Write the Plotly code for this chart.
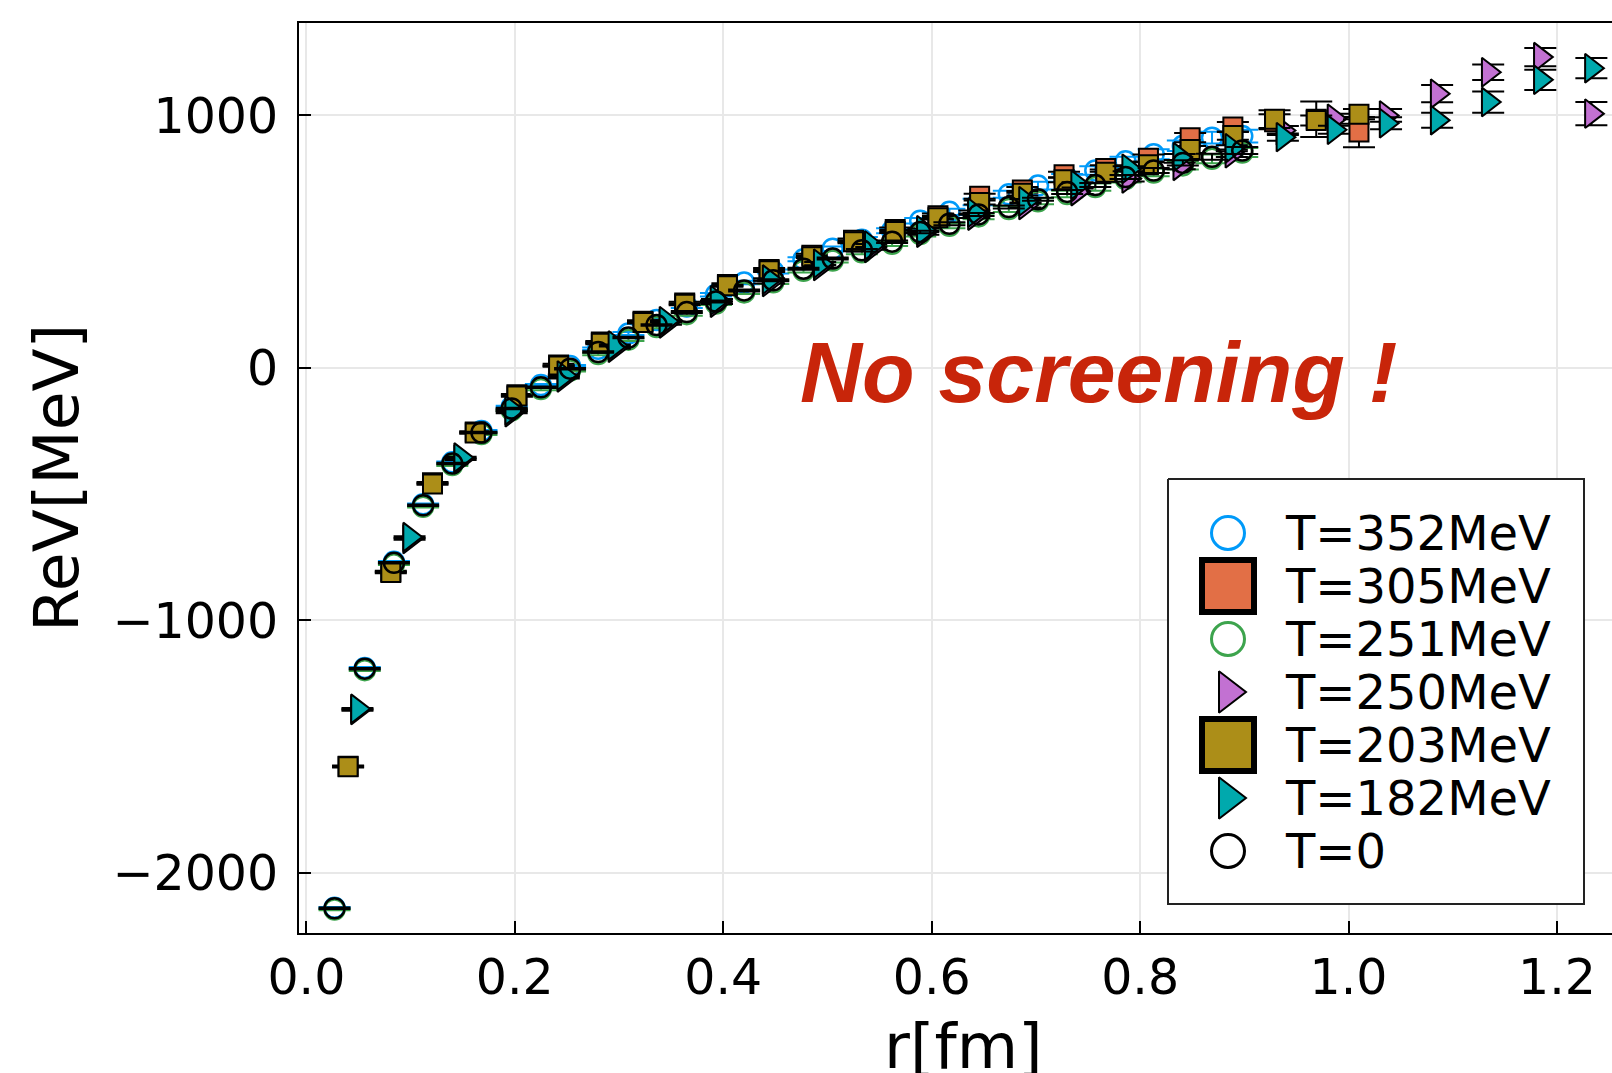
import plotly.graph_objects as go

# ---------------- data ----------------
series_names = ["T=352MeV", "T=305MeV", "T=251MeV", "T=250MeV", "T=203MeV", "T=182MeV", "T=0"]

# fine lattice (T=0, T=352, T=251)
r_fine = [0.027, 0.056, 0.084, 0.112, 0.140, 0.168, 0.197, 0.225, 0.253, 0.280,
          0.309, 0.336, 0.365, 0.393, 0.420, 0.448, 0.477, 0.505, 0.533, 0.562,
          0.589, 0.617, 0.645, 0.674, 0.702, 0.730, 0.757, 0.786, 0.813, 0.841,
          0.869, 0.898]
V_T0 = [-2140, -1191, -772, -544, -379, -256, -161, -77, -3, 63,
        120, 170, 221, 263, 307, 347, 393, 433, 466, 500,
        538, 571, 608, 637, 668, 697, 724, 756, 782, 812,
        836, 861]
E_T0 = [3, 3, 3, 3, 3, 3, 3, 3, 3, 3, 3, 3, 4, 4, 4, 4, 4, 4, 5, 5,
        5, 6, 6, 6, 6, 8, 8, 8, 10, 10, 12, 14]
V_T352 = [-2138, -1188, -768, -540, -374, -250, -154, -68, 8, 76,
          136, 190, 243, 290, 338, 382, 430, 472, 508, 543,
          583, 618, 657, 688, 722, 752, 782, 818, 846, 880,
          912, 918]
E_T352 = [3, 3, 3, 3, 3, 4, 4, 4, 4, 5, 6, 6, 6, 7, 7, 8, 8, 9, 10, 10,
          11, 12, 13, 14, 15, 16, 17, 18, 20, 21, 23, 25]
V_T251 = [-2145, -1197, -778, -550, -385, -262, -168, -84, -10, 55,
          112, 162, 213, 255, 299, 339, 385, 425, 458, 492,
          530, 563, 600, 629, 660, 689, 716, 748, 774, 802,
          828, 853]
E_T251 = [3, 3, 3, 3, 3, 4, 4, 4, 4, 5, 5, 5, 6, 6, 6, 7, 7, 8, 8, 9,
          10, 10, 11, 12, 12, 13, 14, 14, 15, 16, 17, 18]

# medium lattice (T=203, T=305)
r_mid = [0.040, 0.081, 0.121, 0.162, 0.202, 0.242, 0.283, 0.323, 0.363, 0.404,
         0.444, 0.485, 0.525, 0.565, 0.606, 0.646, 0.687, 0.727, 0.767, 0.808,
         0.848, 0.889, 0.929, 0.969, 1.010]
V_T203 = [-1580, -810, -460, -258, -111, 8, 98, 180, 252, 325,
          385, 440, 500, 540, 595, 655, 692, 745, 775, 805,
          865, 920, 985, 980, 1005]
E_T203 = [3, 3, 3, 3, 3, 3, 4, 4, 4, 4, 5, 5, 6, 6, 7, 8, 9, 10, 11, 12,
          14, 16, 35, 20, 20]
V_T305 = [-1578, -806, -455, -254, -106, 12, 103, 185, 257, 330,
          390, 446, 506, 548, 603, 680, 705, 765, 790, 830,
          912, 954, 975, 985, 934]
E_T305 = [3, 3, 3, 3, 3, 4, 4, 4, 5, 5, 6, 6, 7, 8, 9, 10, 11, 12, 13, 15,
          18, 20, 30, 70, 60]

# coarse lattice (T=182, T=250)
r_coarse = [0.049, 0.099, 0.148, 0.197, 0.247, 0.296, 0.345, 0.394, 0.444, 0.493,
            0.542, 0.592, 0.641, 0.690, 0.740, 0.789, 0.838, 0.888, 0.937, 0.986,
            1.036, 1.085, 1.134, 1.184, 1.233]
V_T182 = [-1350, -670, -355, -168, -30, 89, 185, 268, 350, 413,
          485, 545, 615, 660, 725, 789, 835, 870, 914, 943,
          969, 981, 1053, 1141, 1187]
E_T182 = [3, 3, 3, 3, 4, 4, 4, 5, 5, 6, 6, 7, 8, 9, 10, 10, 12, 12, 14, 16,
          24, 30, 42, 40, 40]
V_T250 = [-1355, -678, -362, -176, -38, 80, 176, 258, 340, 403,
          475, 535, 603, 645, 700, 750, 800, 850, 940, 987,
          1000, 1086, 1171, 1231, 1007]
E_T250 = [3, 3, 3, 4, 4, 4, 5, 5, 6, 6, 7, 8, 9, 10, 11, 12, 13, 15, 18, 20,
          25, 34, 31, 36, 46]

x_ticks = [0.0, 0.2, 0.4, 0.6, 0.8, 1.0, 1.2]
y_ticks = [-2000, -1000, 0, 1000]

# ---------------- styles ----------------
C_BLUE, C_ORANGE, C_GREEN = "#009af9", "#e26f46", "#3da44d"
C_PURPLE, C_OLIVE, C_TEAL = "#c271d2", "#ac8e18", "#00a9ad"
FONT = "DejaVu Sans"

fig = go.Figure()

def add_series(x, y, e, name, symbol, color, size, filled, ecolor):
    if filled:
        marker = dict(symbol=symbol, size=size, color=color, opacity=1,
                      line=dict(color="black", width=2))
    else:
        marker = dict(symbol=symbol, size=size, color=color, opacity=1,
                      line=dict(width=2.5))
    fig.add_trace(go.Scatter(
        x=x, y=y, mode="markers", name=name, showlegend=False,
        marker=marker,
        error_y=dict(type="data", array=e, visible=True, color=ecolor,
                     thickness=2, width=16),
    ))

add_series(r_fine, V_T352, E_T352, series_names[0], "circle-open", C_BLUE, 20, False, C_BLUE)
add_series(r_mid, V_T305, E_T305, series_names[1], "square", C_ORANGE, 19, True, "black")
add_series(r_fine, V_T251, E_T251, series_names[2], "circle-open", C_GREEN, 20, False, C_GREEN)
add_series(r_coarse, V_T250, E_T250, series_names[3], "triangle-right", C_PURPLE, 25, True, "black")
add_series(r_mid, V_T203, E_T203, series_names[4], "square", C_OLIVE, 19, True, "black")
add_series(r_coarse, V_T182, E_T182, series_names[5], "triangle-right", C_TEAL, 25, True, "black")
add_series(r_fine, V_T0, E_T0, series_names[6], "circle-open", "black", 20, False, "black")

# ---------------- custom legend on a pixel-space overlay axis ----------------
PL, PR, PT, PB = 299, 1612, 23, 933
leg_box_x = [1168, 1584, 1584, 1168, 1168]
leg_box_y = [479, 479, 904, 904, 479]
fig.add_trace(go.Scatter(x=leg_box_x, y=leg_box_y, xaxis="x2", yaxis="y2",
                         mode="lines", fill="toself", fillcolor="white",
                         line=dict(color="#222", width=2), showlegend=False,
                         hoverinfo="skip"))
row_y = [533, 586, 639, 692, 745, 798, 851]
leg_sym = ["circle-open", "square", "circle-open", "triangle-right", "square", "triangle-right", "circle-open"]
leg_col = [C_BLUE, C_ORANGE, C_GREEN, C_PURPLE, C_OLIVE, C_TEAL, "black"]
leg_size = [33, 52, 33, 36, 52, 36, 33]
leg_lw = [3, 6, 3, 2, 6, 2, 3]
fig.add_trace(go.Scatter(x=[1228] * 7, y=row_y, xaxis="x2", yaxis="y2", mode="markers",
                         marker=dict(symbol=leg_sym, color=leg_col, size=leg_size, opacity=1,
                                     line=dict(color="black", width=leg_lw)),
                         showlegend=False, hoverinfo="skip"))
for name, yy in zip(series_names, row_y):
    fig.add_annotation(x=1283, y=yy, xref="x2", yref="y2", text=name, showarrow=False,
                       xanchor="left", yanchor="middle",
                       font=dict(family=FONT, size=48, color="black"))

fig.add_annotation(x=1098, y=372, xref="x2", yref="y2", text="<b><i>No screening !</i></b>",
                   showarrow=False, xanchor="center", yanchor="middle",
                   font=dict(family="Liberation Sans", size=86, color="#c8250a"))

# x-axis title placed below the tick labels
fig.add_annotation(x=(963 - PL) / (PR - PL), y=(PB - 1046) / (PB - PT), xref="paper", yref="paper",
                   text="r[fm]", showarrow=False, xanchor="center", yanchor="middle",
                   font=dict(family=FONT, size=63, color="black"))

fig.update_layout(
    width=1612, height=1073,
    margin=dict(l=PL, r=1612 - PR, t=PT, b=1073 - PB, pad=0, autoexpand=False),
    paper_bgcolor="white", plot_bgcolor="white",
    font=dict(family=FONT, size=49, color="black"),
    xaxis=dict(range=[-0.0071, 1.2528], tickvals=x_ticks, tickformat=".1f",
               automargin=False,
               showgrid=True, gridcolor="#e8e8e8", gridwidth=1.5, zeroline=False,
               showline=True, linecolor="black", linewidth=2, mirror=True,
               ticks="inside", ticklen=12, tickwidth=2, tickcolor="black",
               ticklabelstandoff=0),
    yaxis=dict(range=[-2238, 1366], tickvals=y_ticks,
               automargin=False,
               showgrid=True, gridcolor="#e8e8e8", gridwidth=1.5, zeroline=False,
               showline=True, linecolor="black", linewidth=2, mirror=False,
               ticks="inside", ticklen=12, tickwidth=2, tickcolor="black",
               ticklabelstandoff=9,
               title=dict(text="ReV[MeV]", font=dict(size=63), standoff=13)),
    xaxis2=dict(overlaying="x", anchor="y2", range=[PL, PR], visible=False, fixedrange=True),
    yaxis2=dict(overlaying="y", anchor="x2", range=[PB, PT], visible=False, fixedrange=True),
)

fig.write_html("out.html")
